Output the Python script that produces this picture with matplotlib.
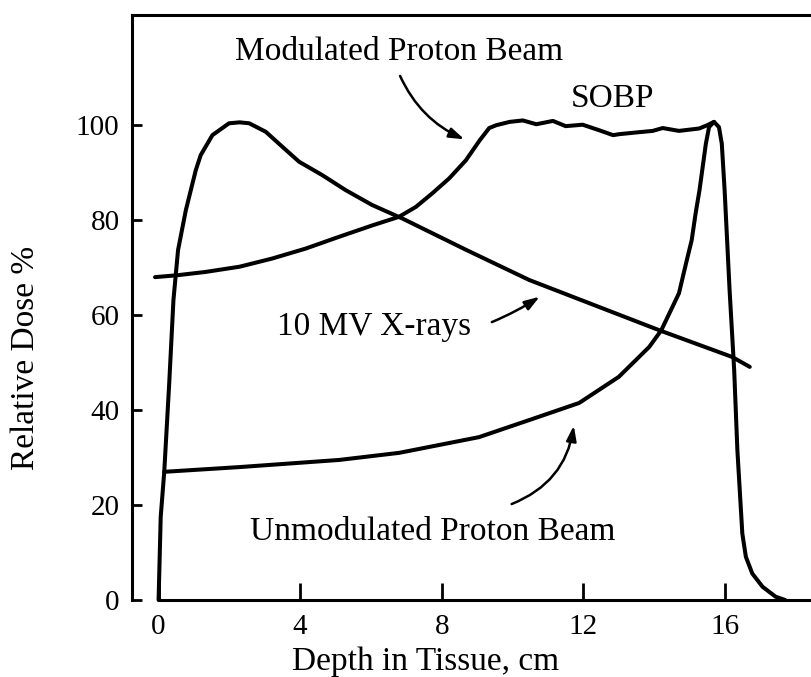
# depth dose curves: x-rays vs unmodulated / modulated proton beam

import matplotlib
matplotlib.use("Agg")
import matplotlib.pyplot as plt

# 10 MV x-rays
xray_x = [0.0, 0.06, 0.16, 0.3, 0.42, 0.55, 0.77, 1.05, 1.19, 1.52, 1.99, 2.29,
          2.56, 3.03, 3.40, 3.97, 4.62, 5.29, 6.03, 6.9, 8.7, 10.47, 14.15,
          16.2, 16.7]
xray_y = [0, 17.5, 27, 45.6, 63.2, 73.7, 82.1, 90.5, 93.7, 97.9, 100.4, 100.6,
          100.4, 98.6, 96.1, 92.3, 89.5, 86.3, 83.2, 80.3, 73.7, 67.4, 56.8,
          51.2, 49.1]

# modulated proton beam (SOBP)
mod_x = [-0.1, 0.53, 1.33, 2.29, 3.2, 4.15, 5.1, 6.04, 6.79, 7.27, 7.74, 8.21,
         8.68, 9.07, 9.34, 9.54, 9.92, 10.29, 10.67, 11.14, 11.5, 11.98, 12.46,
         12.84, 13.0, 13.4, 13.96, 14.24, 14.7, 15.27, 15.5, 15.69, 15.83,
         15.91, 15.99, 16.13, 16.26, 16.35, 16.49, 16.59, 16.77, 17.06, 17.43,
         17.7]
mod_y = [68, 68.4, 69.1, 70.2, 71.9, 74, 76.5, 78.9, 80.7, 82.8, 85.7, 88.8,
         92.6, 96.8, 99.4, 100, 100.7, 101, 100.2, 100.9, 99.8, 100.1, 98.9,
         97.9, 98.1, 98.4, 98.8, 99.4, 98.8, 99.3, 100, 100.7, 99.6,
         96.1, 86.3, 65.3, 48.4, 31.6, 14, 9.1, 5.6, 2.8, 0.7,
         0]

# unmodulated proton beam (Bragg peak)
unmod_x = [0.16, 2.29, 5.1, 6.8, 9.05, 10.47, 11.88, 13.0, 13.86, 14.2, 14.7,
           14.9, 15.06, 15.17, 15.28, 15.37, 15.46, 15.55, 15.69]
unmod_y = [27, 28, 29.5, 31, 34.3, 37.9, 41.5, 47, 53.3, 56.8, 64.6,
           70.9, 75.8, 81.4, 86.3, 91.2, 96.1, 99.6, 100.7]

xticks = [0, 4, 8, 12, 16]
yticks = [0, 20, 40, 60, 80, 100]

plt.rcParams['font.family'] = ['Liberation Serif', 'DejaVu Serif']

fig = plt.figure(figsize=(8.11, 6.77), dpi=100)
ax = fig.add_axes([0.1628, 0.1137, 0.8372, 0.8641])
ax.set_xlim(-0.75, 18.43)
ax.set_ylim(0, 123.2)

lw = 2.9
for xs, ys in [(xray_x, xray_y), (mod_x, mod_y), (unmod_x, unmod_y)]:
    ax.plot(xs, ys, color='black', lw=lw, solid_joinstyle='round',
            solid_capstyle='round', clip_on=False)

ax.spines['right'].set_visible(False)
for s in ['left', 'top', 'bottom']:
    ax.spines[s].set_linewidth(2.2)
ax.spines['bottom'].set_bounds(0, 18.43)

ax.set_xticks(xticks)
ax.set_yticks(yticks)
ax.tick_params(axis='x', direction='in', length=12, width=2, pad=10, labelsize=21)
ax.tick_params(axis='y', direction='in', length=7, width=2, pad=9, labelsize=21)

fs = 24
ax.text(6.79, 113.7, 'Modulated Proton Beam', fontsize=fs, ha='center', va='baseline')
ax.text(12.82, 103.8, 'SOBP', fontsize=fs, ha='center', va='baseline')
ax.text(6.09, 55.8, '10 MV X-rays', fontsize=fs, ha='center', va='baseline')
ax.text(7.75, 12.6, 'Unmodulated Proton Beam', fontsize=fs, ha='center', va='baseline')

arrow = dict(arrowstyle='-|>,head_length=0.9,head_width=0.3', color='black', lw=1.8)
ax.annotate('', xy=(8.71, 96.8), xytext=(6.79, 110.9),
            arrowprops=dict(connectionstyle='arc3,rad=0.2', **arrow))
ax.annotate('', xy=(10.83, 64.2), xytext=(9.34, 58.3),
            arrowprops=dict(connectionstyle='arc3,rad=0.05', **arrow))
ax.annotate('', xy=(11.74, 37.3), xytext=(9.9, 20),
            arrowprops=dict(connectionstyle='arc3,rad=0.3', **arrow))

fig.text(425.7 / 811, 7 / 677, 'Depth in Tissue, cm', fontsize=fs, ha='center', va='baseline')
fig.text(26 / 811, 1 - 358 / 677, 'Relative Dose %', fontsize=fs, rotation=90,
         ha='center', va='center')

fig.savefig('out.png', dpi=100)
